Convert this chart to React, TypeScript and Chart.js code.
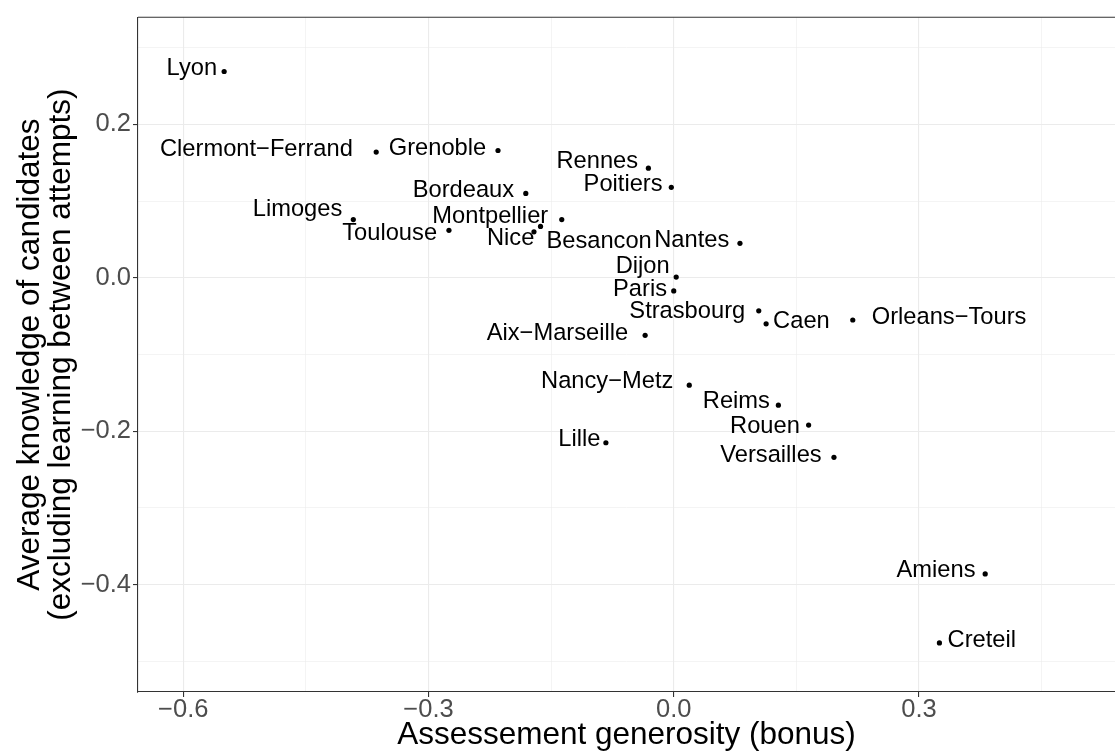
import React, { useEffect, useRef } from "react";
import Chart from "chart.js/auto";

const cities = [
  "Lyon", "Clermont\u2212Ferrand", "Grenoble", "Bordeaux", "Limoges", "Toulouse",
  "Montpellier", "Nice", "Besancon", "Nantes", "Rennes", "Poitiers", "Dijon",
  "Paris", "Strasbourg", "Caen", "Orleans\u2212Tours", "Aix\u2212Marseille",
  "Nancy\u2212Metz", "Reims", "Rouen", "Lille", "Versailles", "Amiens", "Creteil",
];
const generosity = [
  -0.550, -0.364, -0.215, -0.181, -0.392, -0.275, -0.137, -0.171, -0.163, 0.081,
  -0.031, -0.003, 0.003, 0.000, 0.104, 0.113, 0.219, -0.035, 0.019, 0.128,
  0.165, -0.083, 0.196, 0.381, 0.325,
];
const knowledge = [
  0.269, 0.164, 0.166, 0.110, 0.076, 0.062, 0.076, 0.060, 0.067, 0.045,
  0.143, 0.118, 0.001, -0.017, -0.043, -0.060, -0.055, -0.075, -0.140, -0.166,
  -0.192, -0.215, -0.234, -0.386, -0.476,
];
// label placement offsets (pixels, text centre x / baseline y relative to the point)
const labelDx = [
  -32.3, -119.8, -60.5, -62.4, -55.8, -59.3, -71.5, -23.3, 58.6, -48.2,
  -51.1, -48.2, -33.5, -33.7, -71.5, 35.3, 96.3, -87.7, -82.1, -42,
  -43.7, -26.5, -63, -49.2, 42.4,
];
const labelDy = [
  3.7, 3.7, 4, 4, -3.3, 9.3, 3.2, 13.3, 21.4, 4,
  -0.3, 4, -4.3, 5.3, 7.3, 4.4, 3.5, 4.4, 3, 3,
  8, 3.4, 4.3, 2.7, 3.7,
];

const xTicks = [-0.6, -0.45, -0.3, -0.15, 0, 0.15, 0.3, 0.45];
const xMajor = [-0.6, -0.3, 0, 0.3];
const yTicks = [-0.5, -0.4, -0.3, -0.2, -0.1, 0, 0.1, 0.2, 0.3];
const yMajor = [-0.4, -0.2, 0, 0.2];

const xTitle = "Assessement generosity (bonus)";
const yTitle = ["Average knowledge of candidates", "(excluding learning between attempts)"];

const FONT = "'Liberation Sans', Arial, Helvetica, sans-serif";

const isIn = (arr: number[], v: number) => arr.some((m) => Math.abs(m - v) < 1e-9);
const fmt = (v: number) => (v < -1e-9 ? "\u2212" + Math.abs(v).toFixed(1) : Math.abs(v).toFixed(1));

export default function App() {
  const ref = useRef<HTMLCanvasElement | null>(null);
  useEffect(() => {
    if (!ref.current) return;
    const labelPlugin = {
      id: "labels",
      afterDatasetsDraw(chart: any) {
        const ctx = chart.ctx;
        const meta = chart.getDatasetMeta(0);
        ctx.save();
        ctx.font = `23.7px ${FONT}`;
        ctx.fillStyle = "#000000";
        ctx.textAlign = "center";
        ctx.textBaseline = "alphabetic";
        meta.data.forEach((pt: any, i: number) => {
          ctx.fillText(cities[i], pt.x + labelDx[i], pt.y + labelDy[i]);
        });
        ctx.restore();
      },
      afterDraw(chart: any) {
        const ctx = chart.ctx;
        const a = chart.chartArea;
        ctx.save();
        ctx.strokeStyle = "#333333";
        ctx.lineWidth = 1.1;
        ctx.beginPath();
        ctx.moveTo(a.left, a.top);
        ctx.lineTo(a.right + 2, a.top);
        ctx.stroke();
        ctx.fillStyle = "#000000";
        ctx.font = `31.5px ${FONT}`;
        ctx.textAlign = "center";
        ctx.textBaseline = "alphabetic";
        ctx.fillText(xTitle, (a.left + a.right) / 2, 744);
        const cy = (a.top + a.bottom) / 2;
        const bases = [39, 70];
        yTitle.forEach((t, i) => {
          ctx.save();
          ctx.translate(bases[i], cy);
          ctx.rotate(-Math.PI / 2);
          ctx.fillText(t, 0, 0);
          ctx.restore();
        });
        ctx.restore();
      },
    };

    const gridCommon = (major: number[]) => ({
      color: "#EBEBEB",
      lineWidth: (c: any) => (c.tick && isIn(major, c.tick.value) ? 1.1 : 0.55),
      drawTicks: true,
      tickLength: 5,
      tickWidth: 1.1,
      tickColor: (c: any) => (c.tick && isIn(major, c.tick.value) ? "#333333" : "rgba(0,0,0,0)"),
    });

    const chart = new Chart(ref.current, {
      type: "scatter",
      data: {
        datasets: [
          {
            data: generosity.map((x, i) => ({ x, y: knowledge[i] })),
            pointRadius: 2.6,
            pointHoverRadius: 2.6,
            pointBackgroundColor: "#000000",
            pointBorderWidth: 0,
            showLine: false,
          },
        ],
      },
      options: {
        animation: false,
        responsive: false,
        devicePixelRatio: 1,
        events: [],
        layout: { autoPadding: false, padding: { top: 16, right: 0, left: 0, bottom: 0 } },
        plugins: { legend: { display: false }, tooltip: { enabled: false } },
        scales: {
          x: {
            type: "linear",
            position: "bottom",
            min: -0.6554,
            max: 0.5398,
            afterBuildTicks: (s: any) => {
              s.ticks = xTicks.map((v) => ({ value: v }));
            },
            afterFit: (s: any) => {
              s.height = 59;
            },
            grid: gridCommon(xMajor),
            border: { display: true, color: "#333333", width: 1.1 },
            ticks: {
              autoSkip: false,
              maxRotation: 0,
              padding: -2,
              color: "#4D4D4D",
              font: { family: FONT, size: 25.5 },
              callback: (v: any) => (isIn(xMajor, Number(v)) ? fmt(Number(v)) : ""),
            },
          },
          y: {
            type: "linear",
            position: "left",
            min: -0.54,
            max: 0.3397,
            afterBuildTicks: (s: any) => {
              s.ticks = yTicks.map((v) => ({ value: v }));
            },
            afterFit: (s: any) => {
              s.width = 138;
            },
            grid: gridCommon(yMajor),
            border: { display: true, color: "#333333", width: 1.1 },
            ticks: {
              autoSkip: false,
              padding: 2,
              color: "#4D4D4D",
              font: { family: FONT, size: 25.5 },
              callback: (v: any) => (isIn(yMajor, Number(v)) ? fmt(Number(v)) : ""),
            },
          },
        },
      } as any,
      plugins: [labelPlugin],
    });
    return () => chart.destroy();
  }, []);

  return (
    <div style={{ position: "absolute", left: 0, top: 0, width: 1115, height: 751, background: "#ffffff" }}>
      <canvas ref={ref} width={1115} height={751} style={{ display: "block" }} />
    </div>
  );
}
